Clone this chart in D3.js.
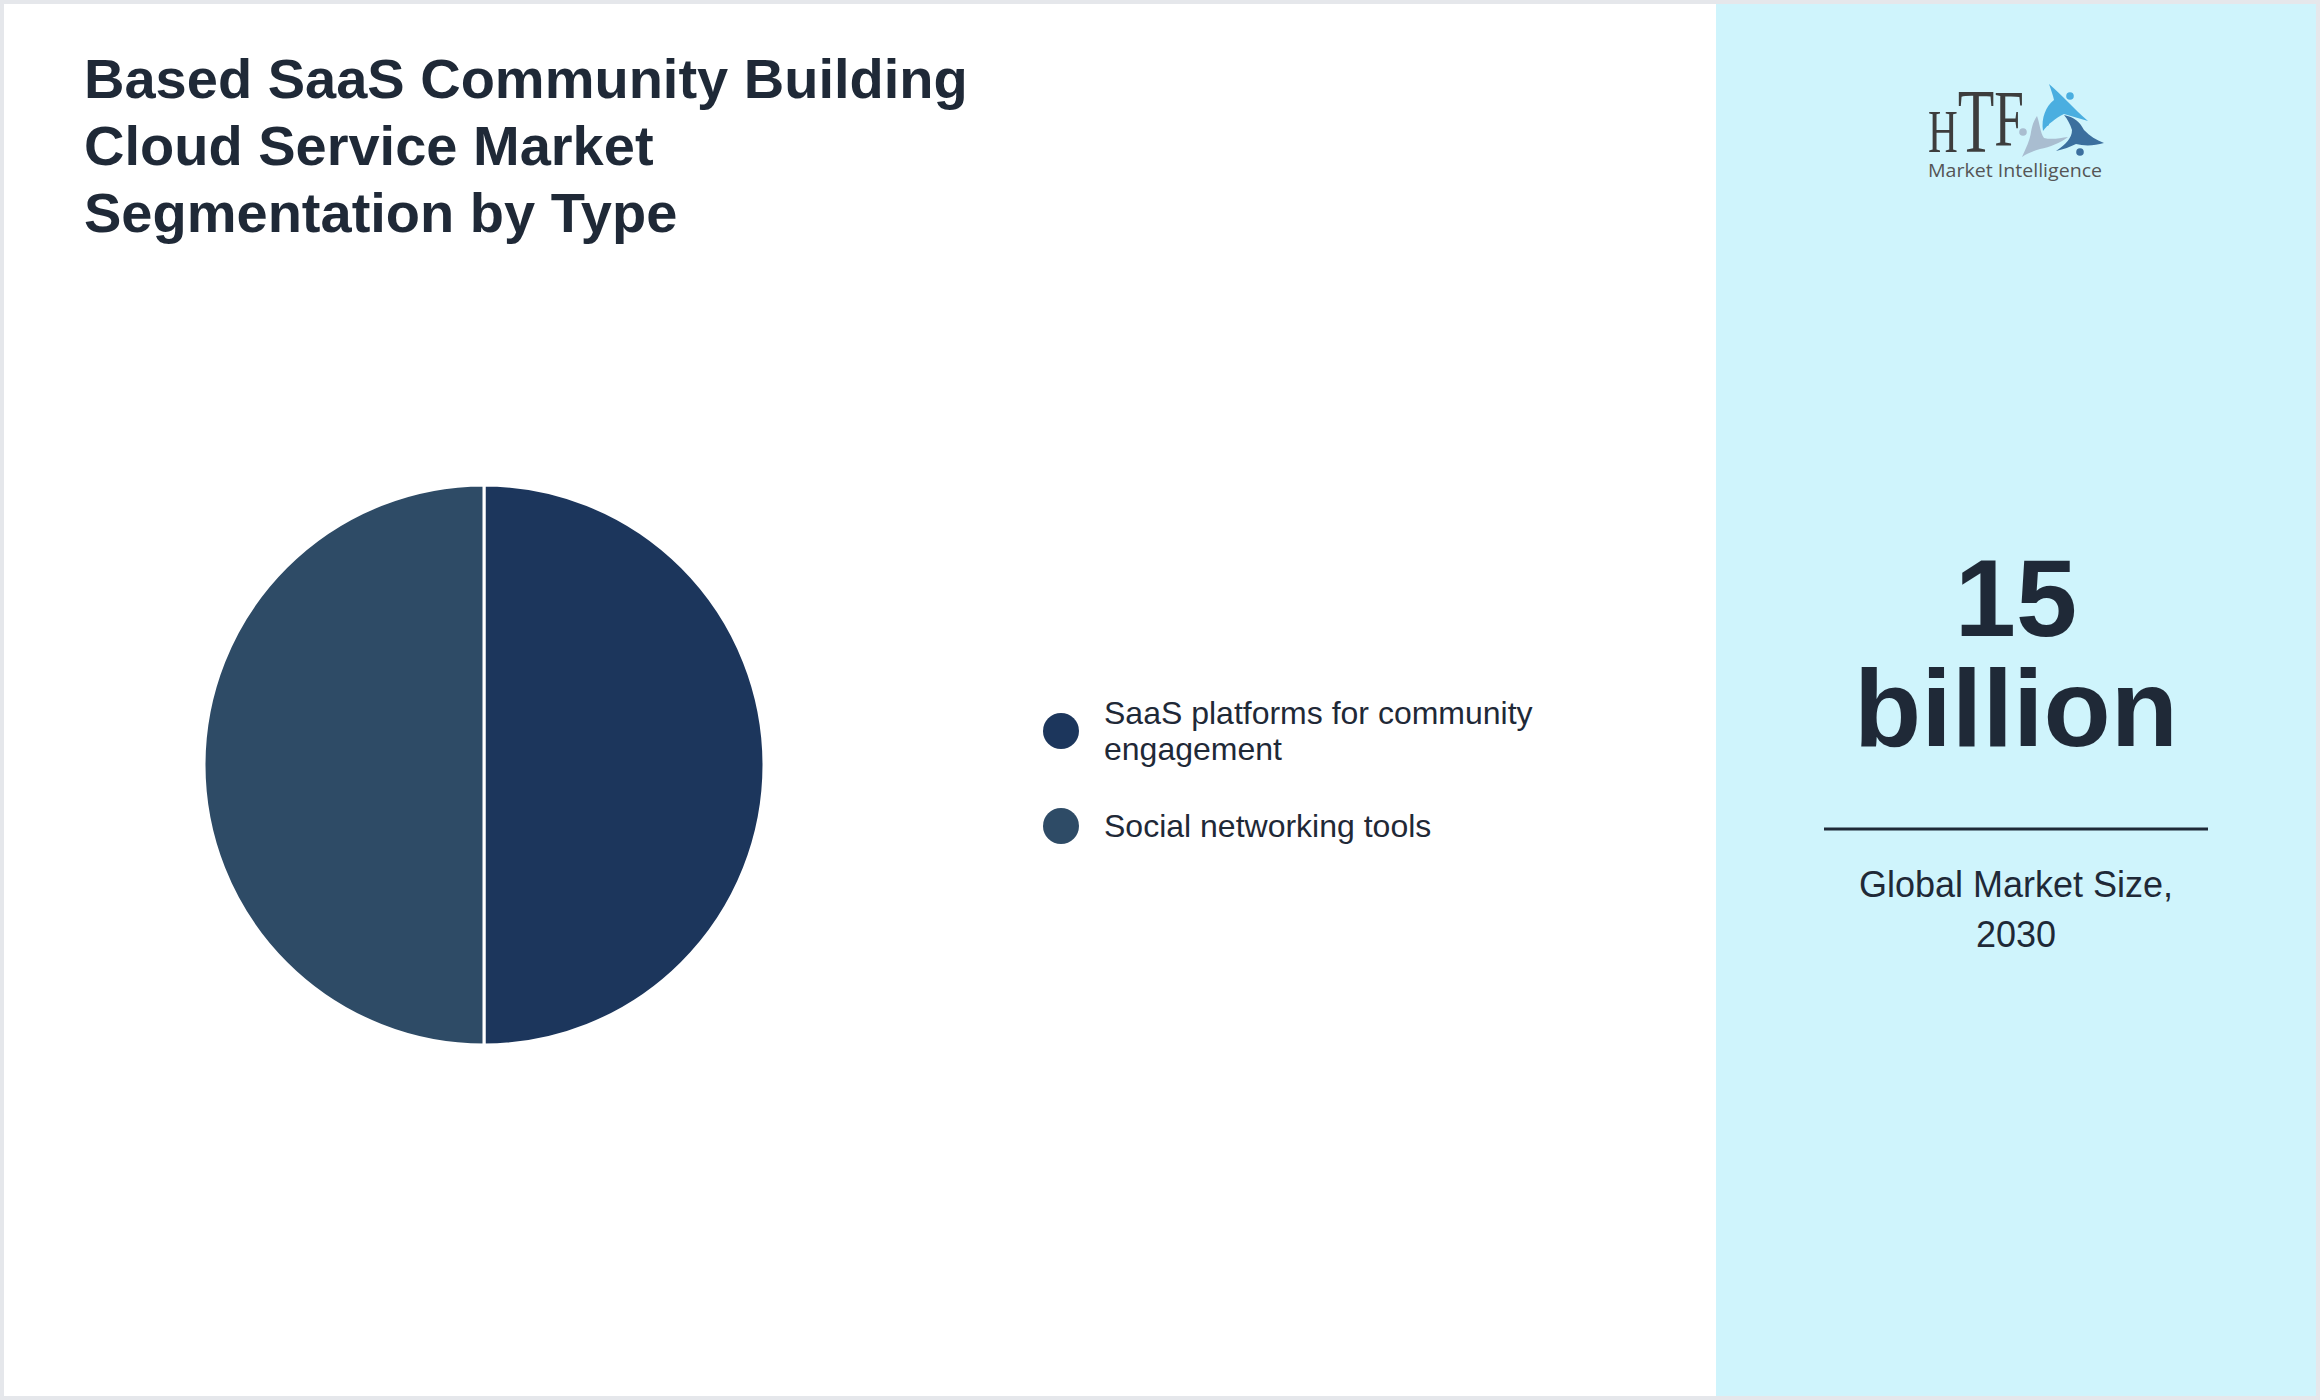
<!DOCTYPE html>
<html>
<head>
<meta charset="utf-8">
<script src="https://cdn.jsdelivr.net/npm/d3@7"></script>
<style>
  html, body { margin: 0; padding: 0; background: #e5e7eb; }
  svg { display: block; }
</style>
</head>
<body>
<svg id="chart" width="2320" height="1400"></svg>
<script>
// ---- data ----
const titleLines = ["Based SaaS Community Building", "Cloud Service Market", "Segmentation by Type"];
const categories = ["SaaS platforms for community engagement", "Social networking tools"];
const legendLines = [["SaaS platforms for community", "engagement"], ["Social networking tools"]];
const values = [50, 50];
const colors = ["#1c365c", "#2e4b66"];
const marketValue = ["15", "billion"];
const marketLabel = ["Global Market Size,", "2030"];

const W = 2320, H = 1400;
const svg = d3.select("#chart");
const font = "'Liberation Sans', Arial, Helvetica, sans-serif";
const ink = "#1f2937";

// frame
svg.append("rect").attr("x", 0).attr("y", 0).attr("width", W).attr("height", H).attr("fill", "#e5e7eb");
svg.append("rect").attr("x", 4).attr("y", 4).attr("width", W - 8).attr("height", H - 8).attr("fill", "#ffffff");
// right panel
svg.append("rect").attr("x", 1716).attr("y", 4).attr("width", W - 4 - 1716).attr("height", H - 8).attr("fill", "#cff4fc");

// title
const title = svg.append("text")
  .attr("font-family", font).attr("font-weight", 700).attr("font-size", 56).attr("fill", ink);
titleLines.forEach((t, i) => {
  title.append("tspan").attr("x", 84).attr("y", 98 + i * 67).text(t);
});

// pie
const cx = 484, cy = 765, r = 280;
const pie = d3.pie().sort(null).value(d => d)(values);
const arc = d3.arc().innerRadius(0).outerRadius(r);
const color = d3.scaleOrdinal().domain(categories).range(colors);
svg.append("g").attr("transform", `translate(${cx},${cy})`)
  .selectAll("path").data(pie).join("path")
  .attr("d", arc)
  .attr("fill", (d, i) => color(categories[i]))
  .attr("stroke", "#ffffff").attr("stroke-width", 3);

// legend
const legendY = [731, 826];
const lg = svg.append("g");
categories.forEach((c, i) => {
  lg.append("circle").attr("cx", 1061).attr("cy", legendY[i]).attr("r", 18).attr("fill", color(c));
  const lines = legendLines[i];
  const lh = 36;
  const t = lg.append("text").attr("font-family", font).attr("font-size", 32).attr("fill", ink);
  lines.forEach((l, j) => {
    t.append("tspan").attr("x", 1104)
      .attr("y", legendY[i] + 11 - (lines.length - 1) * lh / 2 + j * lh).text(l);
  });
});

// right panel: value
const pcx = 2016;
marketValue.forEach((t, i) => {
  svg.append("text").attr("font-family", font).attr("font-weight", 700)
    .attr("font-size", 110).attr("fill", ink).attr("text-anchor", "middle")
    .attr("x", pcx).attr("y", 636 + i * 110).text(t);
});
svg.append("line").attr("x1", 1824).attr("x2", 2208).attr("y1", 829).attr("y2", 829)
  .attr("stroke", ink).attr("stroke-width", 3);
const lab = svg.append("text").attr("font-family", font).attr("font-size", 36)
  .attr("fill", ink).attr("text-anchor", "middle");
marketLabel.forEach((t, i) => {
  lab.append("tspan").attr("x", pcx).attr("y", 897 + i * 50).text(t);
});

// logo
const logo = svg.append("g");
const serif = "'Liberation Serif', 'DejaVu Serif', serif";
const htf = logo.append("g").attr("transform", "translate(1928,152) scale(0.665,1)")
  .append("text").attr("x", 0).attr("y", 0).attr("font-family", serif).attr("fill", "#3d3d3d");
htf.append("tspan").attr("font-size", 62).text("H");
htf.append("tspan").attr("font-size", 90).text("T");
htf.append("tspan").attr("font-size", 80).attr("dy", -6).text("F");
logo.append("text").attr("x", 1928).attr("y", 177)
  .attr("font-family", "'Open Sans', 'Noto Sans', sans-serif")
  .attr("font-size", 17.5).attr("fill", "#555555")
  .attr("textLength", 174).attr("lengthAdjust", "spacingAndGlyphs").text("Market Intelligence");
// figures (decorative)
const fig = logo.append("g");
fig.append("path").attr("fill", "#4aaee0")
  .attr("d", "M2049,84 C2056,90 2062,96 2068,102 C2074,108 2080,114 2088,121 C2080,119 2072,116 2064,114 C2056,118 2048,124 2043,131 C2041,118 2046,106 2054,100 C2053,95 2051,90 2049,84 Z");
fig.append("circle").attr("cx", 2070).attr("cy", 96).attr("r", 3.8).attr("fill", "#4aaee0");
fig.append("circle").attr("cx", 2047).attr("cy", 124).attr("r", 2).attr("fill", "#4aaee0");
fig.append("path").attr("fill", "#3c6f9e")
  .attr("d", "M2064,115 C2074,117 2080,122 2084,130 C2090,136 2096,140 2104,143 C2094,146 2084,146 2076,144 C2070,147 2064,149 2056,151 C2066,144 2072,138 2072,130 C2070,124 2068,120 2064,115 Z");
fig.append("circle").attr("cx", 2080).attr("cy", 152).attr("r", 3.8).attr("fill", "#3c6f9e");
fig.append("path").attr("fill", "#a9bdd0")
  .attr("d", "M2037,116 C2040,124 2040,132 2044,138 C2052,140 2060,138 2068,137 C2060,143 2050,147 2040,149 C2034,151 2028,153 2022,157 C2026,148 2030,140 2031,132 C2032,126 2034,120 2037,116 Z");
fig.append("circle").attr("cx", 2023).attr("cy", 132).attr("r", 3.8).attr("fill", "#a9bdd0");
</script>
</body>
</html>
